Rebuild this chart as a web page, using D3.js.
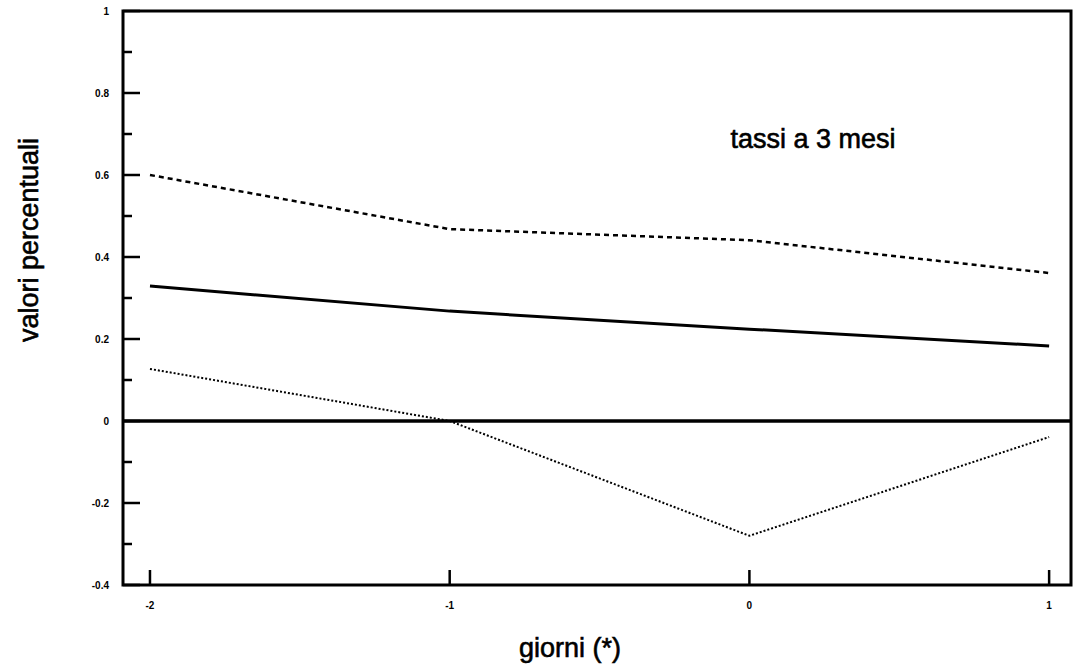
<!DOCTYPE html>
<html><head><meta charset="utf-8">
<script src="https://cdn.jsdelivr.net/npm/d3@7"></script>
<style>body{margin:0;background:#fff}svg{display:block}</style>
</head><body>
<svg id="c" width="1073" height="671"></svg>
<script>
const days = [-2, -1, 0, 1];
const upperBand = [0.600, 0.468, 0.441, 0.361];
const central = [0.329, 0.268, 0.224, 0.183];
const lowerBand = [0.127, 0.000, -0.280, -0.039];
const yMajorTicks = [-0.4, -0.2, 0, 0.2, 0.4, 0.6, 0.8, 1];
const yMinorTicks = [-0.3, -0.1, 0.1, 0.3, 0.5, 0.7, 0.9];
const yTickLabels = ["-0.4", "-0.2", "0", "0.2", "0.4", "0.6", "0.8", "1"];
const xTickLabels = ["-2", "-1", "0", "1"];

const svg = d3.select("#c");
const L = 123, R = 1071, T = 11, B = 585;
const x = d3.scaleLinear().domain([-2.09, 1.073]).range([L, R]);
const y = d3.scaleLinear().domain([-0.4, 1]).range([B, T]);
const FONT = "Liberation Sans, Arial, sans-serif";

// frame
svg.append("rect").attr("x", L).attr("y", T).attr("width", R - L).attr("height", B - T)
  .attr("fill", "none").attr("stroke", "#000").attr("stroke-width", 3);

// left axis ticks
const ly = svg.append("g").attr("transform", `translate(${L},0)`);
ly.selectAll(".maj").data(yMajorTicks).join("line")
  .attr("x1", 0).attr("x2", 17).attr("y1", d => y(d)).attr("y2", d => y(d))
  .attr("stroke", "#000").attr("stroke-width", 2.5);
ly.selectAll(".min").data(yMinorTicks).join("line").attr("class", "min")
  .attr("x1", 0).attr("x2", 9).attr("y1", d => y(d)).attr("y2", d => y(d))
  .attr("stroke", "#000").attr("stroke-width", 2.5);
ly.selectAll("text").data(yMajorTicks).join("text")
  .attr("x", -14).attr("y", d => y(d) + 3.5).attr("text-anchor", "end")
  .attr("font-family", FONT).attr("font-weight", "bold")
  .attr("font-size", 10).text((d, i) => yTickLabels[i]);

// bottom axis ticks
const bx = svg.append("g");
bx.selectAll("line").data(days).join("line")
  .attr("x1", d => x(d)).attr("x2", d => x(d)).attr("y1", B).attr("y2", B - 15)
  .attr("stroke", "#000").attr("stroke-width", 2.5);
bx.selectAll("text").data(days).join("text")
  .attr("x", d => x(d)).attr("y", B + 24).attr("text-anchor", "middle")
  .attr("font-family", FONT).attr("font-weight", "bold")
  .attr("font-size", 10).text((d, i) => xTickLabels[i]);

// zero line
svg.append("line").attr("x1", L).attr("x2", R).attr("y1", y(0)).attr("y2", y(0))
  .attr("stroke", "#000").attr("stroke-width", 3.5);

const line = d3.line().x((d, i) => x(days[i])).y(d => y(d));
svg.append("path").datum(upperBand).attr("d", line).attr("fill", "none")
  .attr("stroke", "#000").attr("stroke-width", 2.5).attr("stroke-dasharray", "5,4");
svg.append("path").datum(central).attr("d", line).attr("fill", "none")
  .attr("stroke", "#000").attr("stroke-width", 3);
svg.append("path").datum(lowerBand).attr("d", line).attr("fill", "none")
  .attr("stroke", "#000").attr("stroke-width", 2).attr("stroke-dasharray", "2,2");

// texts
const title = (sel) => sel.attr("font-family", FONT).attr("font-size", 27)
  .attr("text-anchor", "middle").attr("stroke", "#000").attr("stroke-width", 0.6);
svg.append("text").attr("x", 813).attr("y", 148).call(title).text("tassi a 3 mesi");
svg.append("text").attr("x", 570).attr("y", 657).call(title).text("giorni (*)");
svg.append("text").attr("transform", "translate(38,240) rotate(-90)").call(title).text("valori percentuali");
</script>
</body></html>
